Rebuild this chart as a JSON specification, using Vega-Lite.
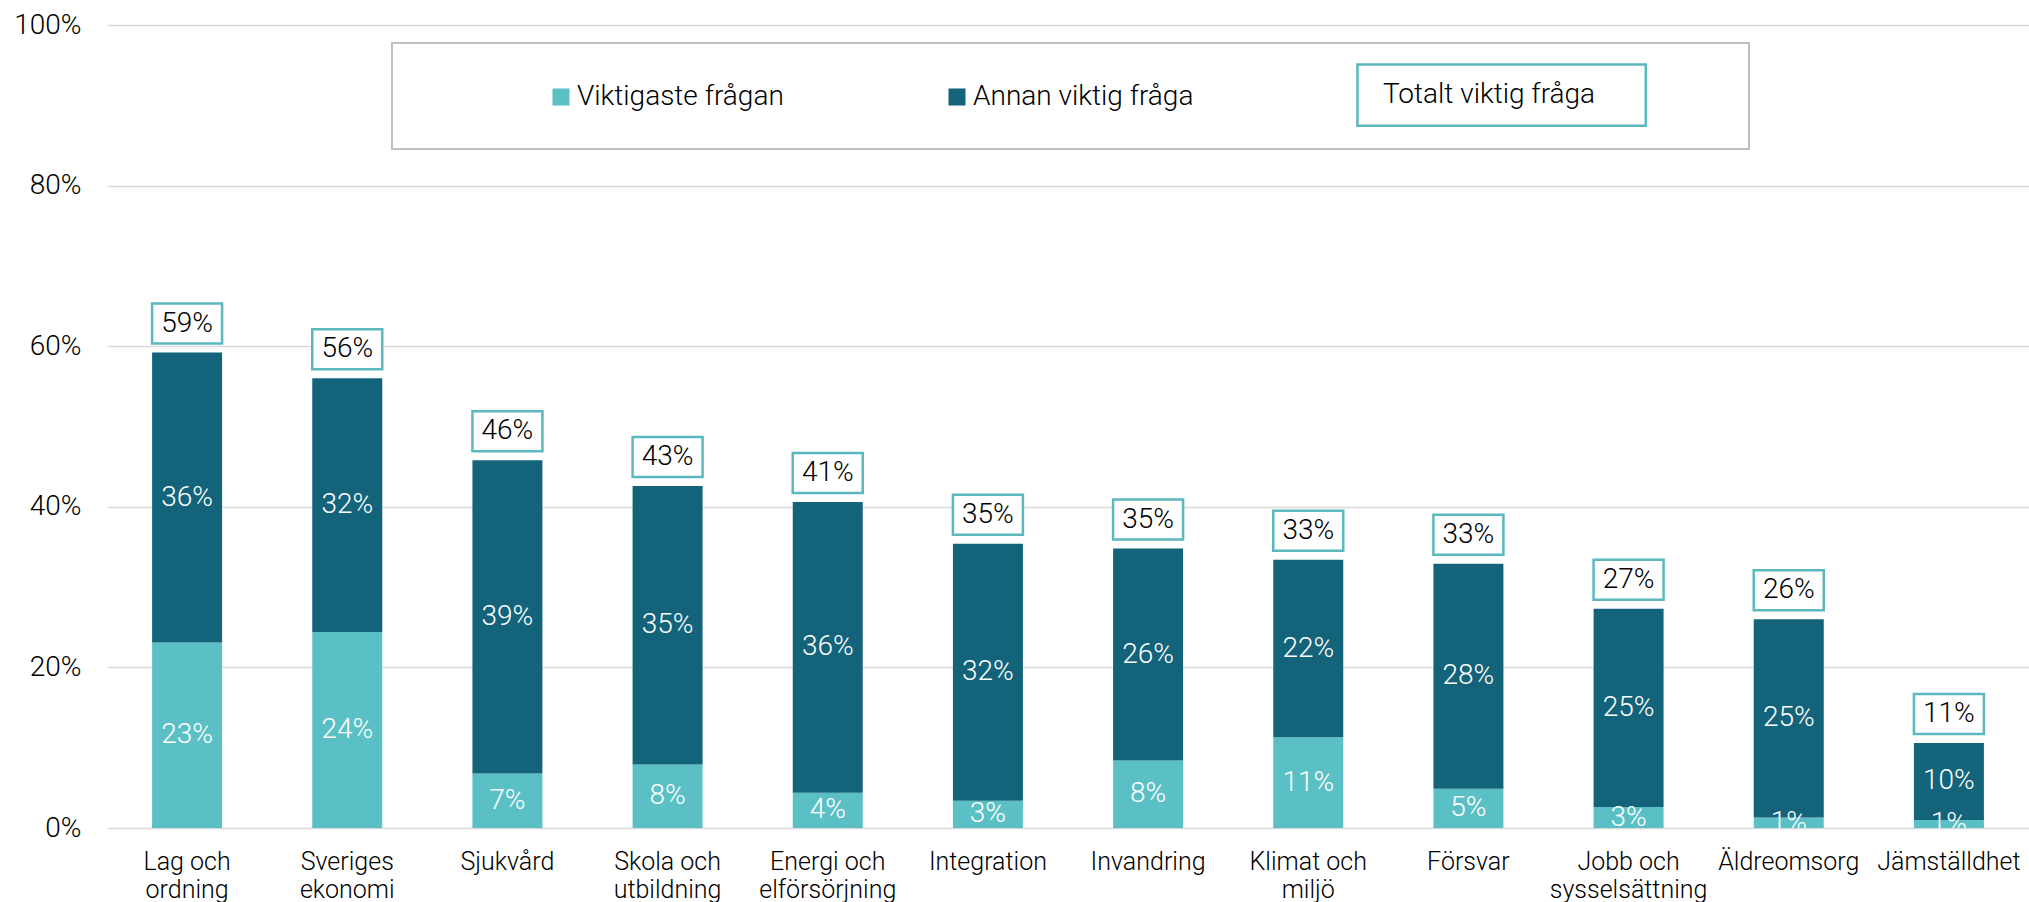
{
  "$schema": "https://vega.github.io/schema/vega-lite/v6.json",
  "width": 1922,
  "height": 803,
  "autosize": {"type": "none"},
  "padding": {"left": 107, "top": 25, "right": 0, "bottom": 74},
  "background": "white",
  "config": {"view": {"stroke": null}, "font": "Roboto"},
  "data": {
    "values": [
      {"cat": "Lag och ordning", "Viktigaste frågan": 0.231, "Annan viktig fråga": 0.361, "total": 0.592},
      {"cat": "Sveriges ekonomi", "Viktigaste frågan": 0.244, "Annan viktig fråga": 0.316, "total": 0.560},
      {"cat": "Sjukvård", "Viktigaste frågan": 0.068, "Annan viktig fråga": 0.390, "total": 0.458},
      {"cat": "Skola och utbildning", "Viktigaste frågan": 0.079, "Annan viktig fråga": 0.347, "total": 0.426},
      {"cat": "Energi och elförsörjning", "Viktigaste frågan": 0.044, "Annan viktig fråga": 0.362, "total": 0.406},
      {"cat": "Integration", "Viktigaste frågan": 0.034, "Annan viktig fråga": 0.320, "total": 0.354},
      {"cat": "Invandring", "Viktigaste frågan": 0.084, "Annan viktig fråga": 0.264, "total": 0.348},
      {"cat": "Klimat och miljö", "Viktigaste frågan": 0.113, "Annan viktig fråga": 0.221, "total": 0.334},
      {"cat": "Försvar", "Viktigaste frågan": 0.049, "Annan viktig fråga": 0.280, "total": 0.329},
      {"cat": "Jobb och sysselsättning", "Viktigaste frågan": 0.026, "Annan viktig fråga": 0.247, "total": 0.273},
      {"cat": "Äldreomsorg", "Viktigaste frågan": 0.013, "Annan viktig fråga": 0.247, "total": 0.260},
      {"cat": "Jämställdhet", "Viktigaste frågan": 0.010, "Annan viktig fråga": 0.096, "total": 0.106}
    ]
  },
  "encoding": {
    "x": {
      "field": "cat",
      "type": "nominal",
      "sort": null,
      "scale": {"paddingInner": 0.563, "paddingOuter": 0.2815},
      "axis": {
        "title": null,
        "labelAngle": 0,
        "ticks": false,
        "domain": false,
        "labelFont": "Roboto",
        "labelFontWeight": 300,
        "labelFontSize": 25,
        "labelColor": "#000000",
        "labelPadding": 21,
        "labelLineHeight": 28,
        "labelLimit": 300,
        "labelExpr": "lastindexof(datum.label, ' ') > 0 ? [slice(datum.label, 0, lastindexof(datum.label, ' ')), slice(datum.label, lastindexof(datum.label, ' ') + 1)] : datum.label"
      }
    }
  },
  "layer": [
    {
      "transform": [
        {"fold": ["Viktigaste frågan", "Annan viktig fråga"], "as": ["serie", "andel"]},
        {"stack": "andel", "groupby": ["cat"], "sort": [{"field": "serie", "order": "descending"}], "as": ["y0", "y1"]}
      ],
      "mark": {"type": "bar"},
      "encoding": {
        "y": {
          "field": "y1",
          "type": "quantitative",
          "scale": {"domain": [0, 1], "nice": false},
          "axis": {
            "title": null,
            "values": [0, 0.2, 0.4, 0.6, 0.8, 1],
            "format": ".0%",
            "domain": false,
            "ticks": false,
            "grid": true,
            "gridColor": "#d9d9d9",
            "gridWidth": 1.5,
            "labelFont": "Roboto",
            "labelFontWeight": 300,
            "labelFontSize": 28,
            "labelColor": "#000000",
            "labelPadding": 26
          }
        },
        "y2": {"field": "y0"},
        "color": {
          "field": "serie",
          "type": "nominal",
          "scale": {
            "domain": ["Viktigaste frågan", "Annan viktig fråga", "Totalt viktig fråga"],
            "range": ["#5BC0C5", "#13637A", "#FFFFFF"]
          },
          "legend": {
            "title": null,
            "orient": "none",
            "legendX": 285,
            "legendY": 18,
            "direction": "horizontal",
            "columns": 3,
            "columnPadding": 22,
            "padding": 18,
            "strokeColor": "#BFBFBF",
            "symbolType": "square",
            "symbolSize": 289,
            "symbolStrokeWidth": 0,
            "symbolOffset": 137,
            "labelOffset": 2,
            "labelFont": "Roboto",
            "labelFontWeight": 300,
            "labelFontSize": 28,
            "labelColor": "#000000",
            "labelLimit": 400,
            "encode": {
              "legend": {
                "update": {"strokeWidth": {"value": 2}}
              },
              "labels": {
                "update": {"y": {"value": 34}, "baseline": {"value": "middle"}}
              },
              "symbols": {
                "update": {
                  "y": {"value": 34},
                  "shape": {"signal": "datum.value === 'Totalt viktig fråga' ? 'M-1.12,-3.6H32.8V3.6H-1.12Z M42.14,0L42.14,0' : 'M-1,-1H1V1H-1Z M0,-3.75L0,-3.75 M0,3.75L0,3.75'"},
                  "stroke": {"signal": "datum.value === 'Totalt viktig fråga' ? '#5BB8BE' : 'transparent'"},
                  "strokeWidth": {"signal": "datum.value === 'Totalt viktig fråga' ? 2.5 : 0"}
                }
              }
            }
          }
        }
      }
    },
    {
      "transform": [
        {"fold": ["Viktigaste frågan", "Annan viktig fråga"], "as": ["serie", "andel"]},
        {"stack": "andel", "groupby": ["cat"], "sort": [{"field": "serie", "order": "descending"}], "as": ["y0", "y1"]},
        {"calculate": "(datum.y0 + datum.y1) / 2", "as": "ymid"}
      ],
      "mark": {"type": "text", "color": "#FFFFFF", "font": "Roboto", "fontWeight": 300, "fontSize": 28, "baseline": "middle", "align": "center", "clip": true},
      "encoding": {
        "y": {"field": "ymid", "type": "quantitative"},
        "text": {"field": "andel", "type": "quantitative", "format": ".0%"}
      }
    },
    {
      "mark": {"type": "point", "shape": "M-1,-0.5714H1V0.5714H-1Z", "size": 4900, "filled": true, "fill": "#FFFFFF", "stroke": "#5BB8BE", "strokeWidth": 2.5, "opacity": 1, "yOffset": -29},
      "encoding": {
        "y": {"field": "total", "type": "quantitative"}
      }
    },
    {
      "mark": {"type": "text", "color": "#000000", "font": "Roboto", "fontWeight": 300, "fontSize": 28, "baseline": "middle", "align": "center", "yOffset": -29},
      "encoding": {
        "y": {"field": "total", "type": "quantitative"},
        "text": {"field": "total", "type": "quantitative", "format": ".0%"}
      }
    }
  ]
}
